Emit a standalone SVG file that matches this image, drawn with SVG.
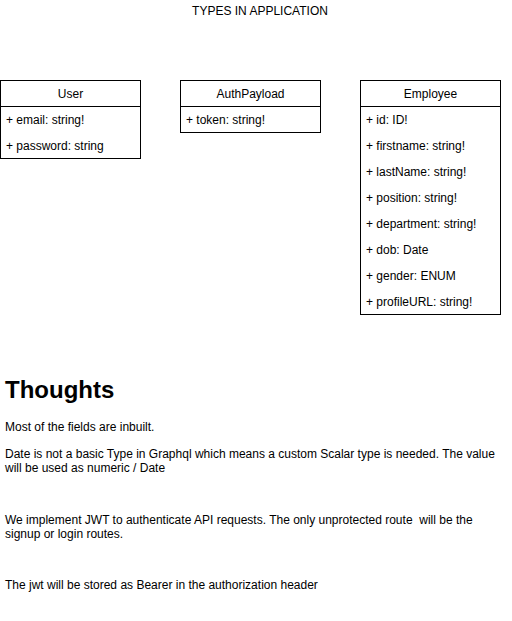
<svg xmlns="http://www.w3.org/2000/svg" width="512" height="621" viewBox="0 0 512 621">
<style>
text{font-family:"Liberation Sans",Arial,sans-serif;font-size:12px;fill:#000;white-space:pre}
.box{fill:#fff;stroke:#000;stroke-width:1}
.hd{text-anchor:middle}
.h1{font-size:24px;font-weight:bold}
</style>
<rect width="512" height="621" fill="#fff"/>
<text x="260" y="15" class="hd">TYPES IN APPLICATION</text>
<g id="user">
<rect class="box" x="0.5" y="80.5" width="140" height="78"/>
<line x1="0.5" y1="106.5" x2="140.5" y2="106.5" stroke="#000"/>
<text x="70.5" y="98" class="hd">User</text>
<text x="6" y="124">+ email: string!</text>
<text x="6" y="150">+ password: string</text>
</g>
<g id="authpayload">
<rect class="box" x="180.5" y="80.5" width="140" height="52"/>
<line x1="180.5" y1="106.5" x2="320.5" y2="106.5" stroke="#000"/>
<text x="250.5" y="98" class="hd">AuthPayload</text>
<text x="186" y="124">+ token: string!</text>
</g>
<g id="employee">
<rect class="box" x="360.5" y="80.5" width="140" height="234"/>
<line x1="360.5" y1="106.5" x2="500.5" y2="106.5" stroke="#000"/>
<text x="430.5" y="98" class="hd">Employee</text>
<text x="366" y="124">+ id: ID!</text>
<text x="366" y="150">+ firstname: string!</text>
<text x="366" y="176">+ lastName: string!</text>
<text x="366" y="202">+ position: string!</text>
<text x="366" y="228">+ department: string!</text>
<text x="366" y="254">+ dob: Date</text>
<text x="366" y="280">+ gender: ENUM</text>
<text x="366" y="306">+ profileURL: string!</text>
</g>
<g id="connectors"></g>
<g id="thoughts">
<text x="5" y="398" class="h1">Thoughts</text>
<text x="5" y="431">Most of the fields are inbuilt.</text>
<text x="5" y="458">Date is not a basic Type in Graphql which means a custom Scalar type is needed. The value</text>
<text x="5" y="472">will be used as numeric / Date</text>
<text x="5" y="524">We implement JWT to authenticate API requests. The only unprotected route  will be the</text>
<text x="5" y="538">signup or login routes.</text>
<text x="5" y="589">The jwt will be stored as Bearer in the authorization header</text>
</g>
</svg>
